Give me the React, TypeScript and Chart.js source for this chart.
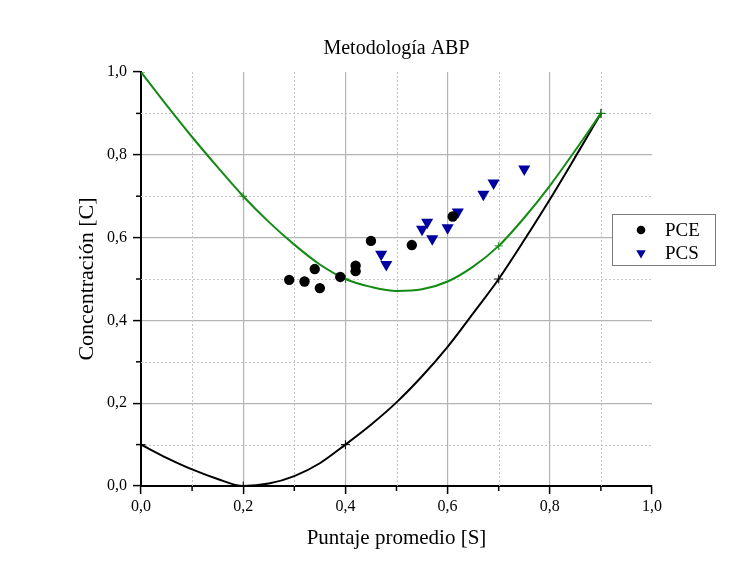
import React, { useEffect, useRef } from 'react';
import { Chart, registerables } from 'chart.js';

Chart.register(...registerables);

const FONT = "'Liberation Serif', 'Times New Roman', serif";

// Boundary curves
const curveS = [0, 0.05, 0.1, 0.15, 0.2, 0.25, 0.3, 0.35, 0.4, 0.45, 0.5, 0.55, 0.6, 0.65, 0.7, 0.75, 0.8, 0.85, 0.9];
const upperC = [1.0, 0.92, 0.843, 0.77, 0.70, 0.638, 0.583, 0.535, 0.50, 0.481, 0.471, 0.475, 0.494, 0.53, 0.58, 0.648, 0.725, 0.811, 0.90];
const lowerC = [0.10, 0.068, 0.04, 0.017, 0.0, 0.006, 0.024, 0.055, 0.10, 0.148, 0.202, 0.265, 0.336, 0.417, 0.50, 0.594, 0.692, 0.795, 0.90];

// Knot markers (+) on the curves
const knotS = [0, 0.2, 0.4, 0.7, 0.9];
const upperKnotC = [1.0, 0.70, 0.50, 0.58, 0.90];
const lowerKnotC = [0.10, 0.0, 0.10, 0.50, 0.90];

// PCE (circles)
const pceS = [0.29, 0.32, 0.34, 0.35, 0.39, 0.42, 0.42, 0.45, 0.53, 0.61];
const pceC = [0.498, 0.494, 0.524, 0.478, 0.505, 0.532, 0.519, 0.592, 0.582, 0.651];

// PCS (down triangles)
const pcsS = [0.47, 0.48, 0.55, 0.56, 0.57, 0.60, 0.62, 0.67, 0.69, 0.75];
const pcsC = [0.560, 0.535, 0.620, 0.637, 0.597, 0.624, 0.662, 0.705, 0.732, 0.766];

const minorTicks = [0.1, 0.3, 0.5, 0.7, 0.9];

const GREEN = '#138a13';
const NAVY = '#0000a0';

const toXY = (xs: number[], ys: number[]) => xs.map((x, i) => ({ x, y: ys[i] }));
const fmt = (v: number | string) => Number(v).toFixed(1).replace('.', ',');

const minorPlugin = {
  id: 'minorGrid',
  beforeDatasetsDraw(chart: any) {
    const { ctx, chartArea: a, scales } = chart;
    const xs = scales.x;
    const ys = scales.y;
    ctx.save();
    ctx.strokeStyle = '#c4c4c4';
    ctx.lineWidth = 1;
    ctx.setLineDash([2, 2]);
    minorTicks.forEach((v) => {
      const px = Math.round(xs.getPixelForValue(v)) + 0.5;
      ctx.beginPath();
      ctx.moveTo(px, a.top);
      ctx.lineTo(px, a.bottom);
      ctx.stroke();
      const py = Math.round(ys.getPixelForValue(v)) + 0.5;
      ctx.beginPath();
      ctx.moveTo(a.left, py);
      ctx.lineTo(a.right, py);
      ctx.stroke();
    });
    ctx.setLineDash([]);
    ctx.strokeStyle = '#000';
    ctx.lineWidth = 1.5;
    minorTicks.forEach((v) => {
      const px = xs.getPixelForValue(v);
      ctx.beginPath();
      ctx.moveTo(px, a.bottom);
      ctx.lineTo(px, a.bottom + 5);
      ctx.stroke();
      const py = ys.getPixelForValue(v);
      ctx.beginPath();
      ctx.moveTo(a.left, py);
      ctx.lineTo(a.left - 5, py);
      ctx.stroke();
    });
    ctx.restore();
  },
};

const legendPlugin = {
  id: 'boxLegend',
  afterDraw(chart: any) {
    const { ctx } = chart;
    const items = chart.data.datasets.filter((d: any) => d.inLegend);
    const bx = 612;
    const by = 214;
    const bw = 103;
    const bh = 51;
    ctx.save();
    ctx.fillStyle = '#ffffff';
    ctx.fillRect(bx, by, bw, bh);
    ctx.strokeStyle = '#7a7a7a';
    ctx.lineWidth = 1;
    ctx.strokeRect(bx + 0.5, by + 0.5, bw, bh);
    ctx.font = `19px ${FONT}`;
    ctx.textBaseline = 'middle';
    ctx.textAlign = 'left';
    items.forEach((d: any, i: number) => {
      const cy = by + 16 + i * 23;
      const cx = bx + 29;
      ctx.fillStyle = d.backgroundColor;
      ctx.beginPath();
      if (d.pointStyle === 'triangle') {
        const r = 5.5;
        ctx.moveTo(cx, cy + r);
        ctx.lineTo(cx - r * 0.866, cy - r / 2);
        ctx.lineTo(cx + r * 0.866, cy - r / 2);
        ctx.closePath();
      } else {
        ctx.arc(cx, cy, 4.3, 0, Math.PI * 2);
      }
      ctx.fill();
      ctx.fillStyle = '#000';
      ctx.fillText(d.label, bx + 53, cy + 1);
    });
    ctx.restore();
  },
};

const gridColor = (c: any) => {
  const v = c.tick ? c.tick.value : 0;
  return Math.abs(v - 1) < 1e-6 ? 'rgba(0,0,0,0)' : '#b4b4b4';
};

export default function App() {
  const ref = useRef<HTMLCanvasElement | null>(null);

  useEffect(() => {
    if (!ref.current) return;
    const chart = new Chart(ref.current, {
      type: 'scatter',
      data: {
        datasets: [
          {
            label: 'PCE',
            inLegend: true,
            data: toXY(pceS, pceC),
            pointStyle: 'circle',
            pointRadius: 5.2,
            backgroundColor: '#000000',
            borderColor: '#000000',
            borderWidth: 0,
            order: 0,
          } as any,
          {
            label: 'PCS',
            inLegend: true,
            data: toXY(pcsS, pcsC),
            pointStyle: 'triangle',
            rotation: 180,
            pointRadius: 7,
            backgroundColor: NAVY,
            borderColor: NAVY,
            borderWidth: 0,
            order: 1,
          } as any,
          {
            label: 'upper',
            data: toXY(curveS, upperC),
            showLine: true,
            pointRadius: 0,
            borderColor: GREEN,
            borderWidth: 2,
            cubicInterpolationMode: 'monotone',
            order: 3,
          } as any,
          {
            label: 'lower',
            data: toXY(curveS, lowerC),
            showLine: true,
            pointRadius: 0,
            borderColor: '#000000',
            borderWidth: 2,
            cubicInterpolationMode: 'monotone',
            order: 4,
          } as any,
          {
            label: 'upperKnots',
            data: toXY(knotS, upperKnotC),
            pointStyle: 'cross',
            pointRadius: 4,
            borderColor: GREEN,
            borderWidth: 1,
            order: 2,
          } as any,
          {
            label: 'lowerKnots',
            data: toXY(knotS, lowerKnotC),
            pointStyle: 'cross',
            pointRadius: 4.5,
            borderColor: '#000000',
            borderWidth: 1,
            order: 2,
          } as any,
        ],
      },
      options: {
        animation: false,
        responsive: true,
        maintainAspectRatio: false,
        layout: { padding: { left: 0, right: 88, top: 0, bottom: 0 } },
        plugins: {
          legend: { display: false },
          tooltip: { enabled: false },
          title: {
            display: true,
            text: 'Metodología ABP',
            fullSize: false,
            color: '#000',
            font: { family: FONT, size: 20, weight: 'normal' },
            padding: { top: 37, bottom: 11 },
          },
        },
        scales: {
          x: {
            type: 'linear',
            min: 0,
            max: 1,
            afterFit: (s: any) => {
              s.height = 89;
            },
            ticks: {
              stepSize: 0.2,
              color: '#000',
              padding: 3,
              maxRotation: 0,
              font: { family: FONT, size: 16 },
              callback: (v: any) => fmt(v),
            },
            grid: {
              color: gridColor,
              lineWidth: 1.2,
              tickLength: 8,
              tickColor: '#000',
              tickWidth: 1.5,
            },
            border: { color: '#000', width: 2 },
            title: {
              display: true,
              text: 'Puntaje promedio [S]',
              color: '#000',
              font: { family: FONT, size: 21 },
              padding: { top: 0, bottom: 24 },
            },
          },
          y: {
            type: 'linear',
            min: 0,
            max: 1,
            afterFit: (s: any) => {
              s.width = 141;
            },
            ticks: {
              stepSize: 0.2,
              color: '#000',
              padding: 6,
              font: { family: FONT, size: 16 },
              callback: (v: any) => fmt(v),
            },
            grid: {
              color: gridColor,
              lineWidth: 1.2,
              tickLength: 8,
              tickColor: '#000',
              tickWidth: 1.5,
            },
            border: { color: '#000', width: 2 },
            title: {
              display: true,
              text: 'Concentración [C]',
              color: '#000',
              font: { family: FONT, size: 22 },
              padding: { top: 74, bottom: 0 },
            },
          },
        },
      } as any,
      plugins: [minorPlugin, legendPlugin],
    });
    return () => chart.destroy();
  }, []);

  return (
    <div style={{ position: 'fixed', left: 0, top: 0, width: 740, height: 575, background: '#fff' }}>
      <canvas ref={ref} />
    </div>
  );
}
